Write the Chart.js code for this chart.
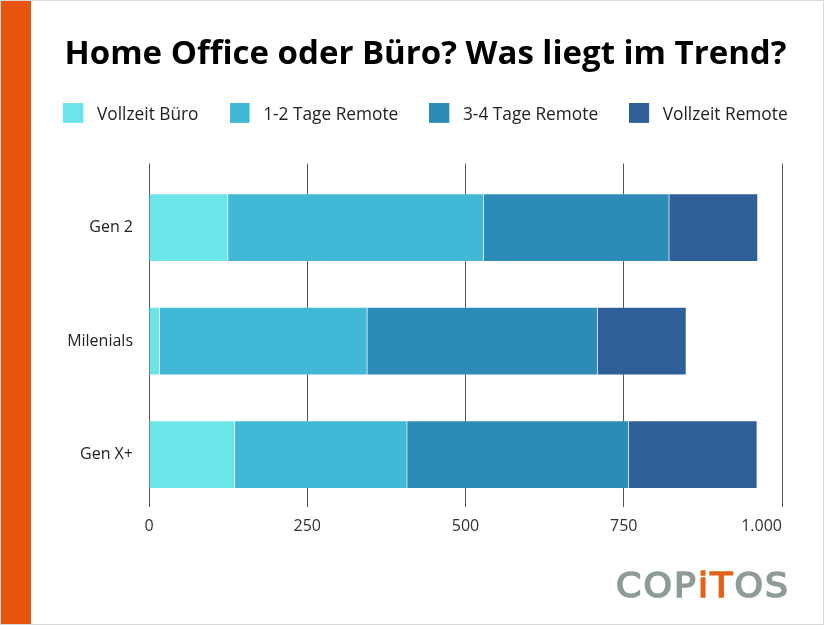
<!DOCTYPE html>
<html>
<head>
<meta charset="utf-8">
<script src="https://cdn.jsdelivr.net/npm/chart.js@4.4.1/dist/chart.umd.min.js"></script>
<style>
html,body{margin:0;padding:0;background:#fff;}
#wrap{position:relative;width:824px;height:625px;overflow:hidden;background:#fff;}
#bar{position:absolute;left:0;top:0;width:31px;height:625px;background:#E8540F;}
#frame{position:absolute;left:0;top:0;width:822px;height:623px;border:1px solid #d9d9d9;pointer-events:none;}
#c{position:absolute;left:31px;top:0;width:793px;height:625px;}
</style>
</head>
<body>
<div id="wrap">
  <div id="bar"></div>
  <canvas id="c" width="793" height="625"></canvas>
  <div id="frame"></div>
</div>
<script>
// ---- data ----
const categories = ['Gen 2', 'Milenials', 'Gen X+'];
const seriesNames = ['Vollzeit Büro', '1-2 Tage Remote', '3-4 Tage Remote', 'Vollzeit Remote'];
const vollzeitBuero = [125, 17, 136];
const tage1bis2 = [404, 328, 272];
const tage3bis4 = [293, 364, 350];
const vollzeitRemote = [140, 140, 203];
const xTickValues = [0, 250, 500, 750, 1000];
const titleText = 'Home Office oder Büro? Was liegt im Trend?';
const logoText = 'COPiTOS';

// ---- styles ----
const seriesColors = ['#6CE5E8', '#41B8D5', '#2D8BBA', '#2F5F98'];
const allSeries = [vollzeitBuero, tage1bis2, tage3bis4, vollzeitRemote];

const fmt = v => String(v).replace(/\B(?=(\d{3})+(?!\d))/g, '.');

// legend swatch: 20x20 square, transparent space to its right and below
function swatch(color) {
  const cv = document.createElement('canvas');
  cv.width = 25; cv.height = 24;
  const g = cv.getContext('2d');
  g.fillStyle = color;
  g.fillRect(0, 0, 20, 20);
  return cv;
}

const datasets = allSeries.map((vals, s) => ({
  label: seriesNames[s],
  data: vals.map((v, i) => ({ x: v, y: i })),
  backgroundColor: seriesColors[s],
  borderColor: 'rgba(255,255,255,0.15)',
  borderWidth: 1,
  barThickness: 68,
  pointStyle: swatch(seriesColors[s])
}));

// first x tick label centred on its gridline, last one kept inside (right aligned)
const firstTickCenter = {
  id: 'firstTickCenter',
  beforeDraw(chart) {
    const items = chart.scales.x.getLabelItems(chart.chartArea);
    if (items.length) items[0].options.textAlign = 'center';
  }
};

const logoPlugin = {
  id: 'logo',
  afterDraw(chart) {
    const ctx = chart.ctx;
    ctx.save();
    ctx.font = '34px "DejaVu Sans"';
    ctx.textBaseline = 'alphabetic';
    const chars = logoText.split('');
    const colors = chars.map((ch, i) => (i === 3 || i === 4) ? '#E2621B' : '#8E9B97');
    const widths = chars.map(ch => ctx.measureText(ch).width);
    const gap = 2;
    const sum = widths.reduce((a, b) => a + b, 0) + gap * (chars.length - 1);
    ctx.translate(585, 597);
    ctx.scale(172 / sum, 1);
    ctx.lineWidth = 1.6;
    let x = 0;
    chars.forEach((ch, i) => {
      ctx.fillStyle = colors[i];
      ctx.strokeStyle = colors[i];
      ctx.fillText(ch, x, 0);
      ctx.strokeText(ch, x, 0);
      x += widths[i] + gap;
    });
    ctx.restore();
  }
};

new Chart(document.getElementById('c'), {
  type: 'bar',
  data: { datasets },
  plugins: [firstTickCenter, logoPlugin],
  options: {
    indexAxis: 'y',
    responsive: false,
    animation: false,
    layout: { padding: { left: 0, right: 4, top: 0, bottom: 0 } },
    plugins: {
      tooltip: { enabled: false },
      title: {
        display: true,
        text: titleText,
        color: '#000',
        font: { family: '"Open Sans"', size: 33, weight: 'bold', lineHeight: 1.2 },
        padding: { top: 35.2, bottom: 0.4 }
      },
      legend: {
        display: true,
        position: 'top',
        align: 'center',
        labels: {
          usePointStyle: true,
          pointStyleWidth: 25,
          boxHeight: 17,
          padding: 31,
          color: '#222',
          font: { family: '"Open Sans"', size: 17.3 }
        }
      }
    },
    scales: {
      x: {
        type: 'linear',
        position: 'bottom',
        stacked: true,
        min: 0,
        max: 1000,
        afterBuildTicks: s => { s.ticks = xTickValues.map(v => ({ value: v })); },
        ticks: {
          callback: v => fmt(v),
          align: 'inner',
          padding: 10,
          color: '#333',
          font: { family: '"Open Sans"', size: 16 }
        },
        grid: { color: '#555', lineWidth: 1, drawTicks: false },
        border: { display: false },
        afterFit: s => { s.height = 118; }
      },
      y: {
        type: 'linear',
        position: 'left',
        stacked: true,
        reverse: true,
        offset: false,
        bounds: 'data',
        min: -0.564,
        max: 2.462,
        afterBuildTicks: s => { s.ticks = categories.map((c, i) => ({ value: i })); },
        ticks: {
          callback: v => categories[v],
          padding: 16,
          color: '#222',
          font: { family: '"Open Sans"', size: 16 }
        },
        grid: { display: false, drawTicks: false },
        border: { display: false },
        afterFit: s => { s.width = 118; }
      },
      rPad: {
        type: 'linear',
        position: 'right',
        display: true,
        grid: { display: false, drawTicks: false },
        border: { display: false },
        ticks: { display: false },
        afterFit: s => { s.width = 38; }
      },
      tPad: {
        type: 'linear',
        position: 'top',
        display: true,
        grid: { display: false, drawTicks: false },
        border: { display: false },
        ticks: { display: false },
        afterFit: s => { s.height = 30.1; }
      }
    }
  }
});
</script>
</body>
</html>
